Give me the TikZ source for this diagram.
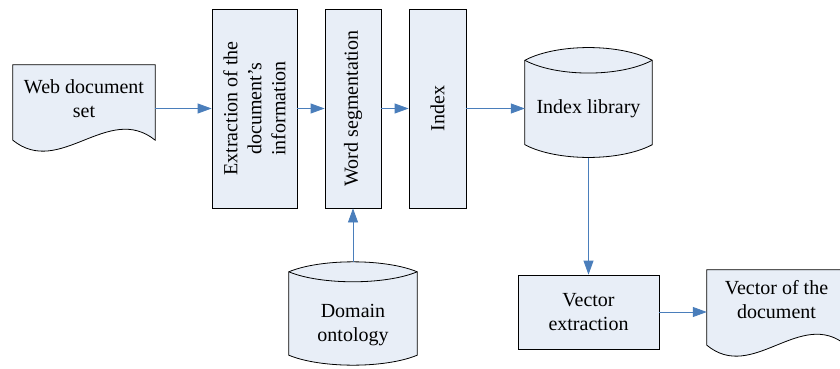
\documentclass[tikz,border=0pt]{standalone}
\usepackage{fontspec}
\setmainfont{Liberation Serif}
\usetikzlibrary{%
	calc,%
	arrows.meta,%
	backgrounds
}

\definecolor{boxfill}{RGB}{232,238,247}
\definecolor{flowblue}{RGB}{74,126,187}

\begin{document}
\begin{tikzpicture}[x=1pt,y=-1pt,
	every node/.style={font=\fontsize{20}{24}\selectfont, align=center, inner sep=0pt},
	box/.style={draw, fill=boxfill, line width=0.8pt},
	shapeline/.style={draw, fill=boxfill, line width=0.8pt},
	flow/.style={draw=flowblue, line width=0.8pt, -{Triangle[length=14pt,width=10pt]}}]
	\useasboundingbox (0,0) rectangle (840,369);

	% Nodes
	\node (web) at (84,99) [minimum width=142, minimum height=68] {Web document\\set};
	\node[box, rotate=90, minimum width=199, minimum height=85] (ext) at (254.5,108.5) {Extraction of the\\document’s\\information};
	\node[box, rotate=90, minimum width=199, minimum height=56] (wseg) at (353,108.5) {Word segmentation};
	\node[box, rotate=90, minimum width=199, minimum height=57] (idx) at (437.5,108.5) {Index};
	\node (lib) at (588.5,108.5) [minimum width=127, minimum height=72] {Index library};
	\node (dom) at (353,325) [minimum width=128, minimum height=80] {Domain\\ontology};
	\node[box, minimum width=141, minimum height=74] (vec) at (588.5,312) {Vector\\extraction};
	\node (vdoc) at (776.5,300) [minimum width=139, minimum height=60] {Vector of the\\document};

	% Shapes behind the texts
	\begin{scope}[on background layer]
		% documents
		\draw[shapeline] (web.north west) -- (web.north east) -- ($(web.south east)+(0,7)$)
			.. controls +(-47,-38) and +(47,38) .. ($(web.south west)+(0,7)$) -- cycle;
		\draw[shapeline] (vdoc.north west) -- (vdoc.north east) -- ($(vdoc.south east)+(0,15)$)
			.. controls +(-46,-38) and +(46,38) .. ($(vdoc.south west)+(0,15)$) -- cycle;
		% stores
		\draw[shapeline] ($(lib.north west)+(0,-12)$) .. controls +(32,-17) and +(-32,-17) .. ($(lib.north east)+(0,-12)$)
			-- (lib.south east) .. controls +(-32,17) and +(32,17) .. (lib.south west) -- cycle;
		\draw[line width=0.8pt] ($(lib.north west)+(0,-12)$) .. controls +(32,17) and +(-32,17) .. ($(lib.north east)+(0,-12)$);
		\draw[shapeline] ($(dom.north west)+(0,-13)$) .. controls +(32,-13.3) and +(-32,-13.3) .. ($(dom.north east)+(0,-13)$)
			-- ($(dom.south east)+(0,-10)$) .. controls +(-32,13.3) and +(32,13.3) .. ($(dom.south west)+(0,-10)$) -- cycle;
		\draw[line width=0.8pt] ($(dom.north west)+(0,-13)$) .. controls +(32,13.3) and +(-32,13.3) .. ($(dom.north east)+(0,-13)$);
	\end{scope}

	% Arrows
	\draw[flow] (web.east |- ext.center) -- (ext);
	\draw[flow] (ext) -- (wseg);
	\draw[flow] (wseg) -- (idx);
	\draw[flow] (idx) -- (lib);
	\draw[flow] ($(lib.south)+(0,13)$) -- (vec);
	\draw[flow] (vec) -- (vec -| vdoc.west);
	\draw[flow] ($(dom.north)+(0,-23)$) -- (wseg);
\end{tikzpicture}
\end{document}
